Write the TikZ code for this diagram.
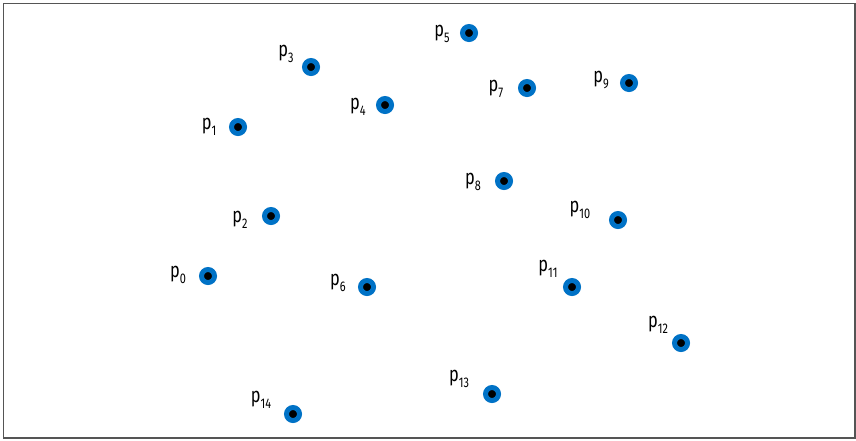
\documentclass[tikz,border=0pt]{standalone}
\usepackage{fontspec}
\newfontfamily\labelfont[FakeStretch=0.78]{Fira Sans}
\definecolor{ptblue}{RGB}{0,114,198}
\definecolor{frame}{RGB}{85,85,85}
\usetikzlibrary{positioning}
\newcommand\ptname[1]{p\raisebox{-0.3em}{\fontsize{14}{14}\selectfont #1}}

\begin{document}
\begin{tikzpicture}[x=1pt, y=-1pt,
  pt/.style={circle, fill=black, draw=ptblue, line width=5pt, minimum size=13pt, inner sep=0pt},
  lbl/.style={font=\labelfont\fontsize{21}{24}\selectfont, inner sep=0pt}
]
  \useasboundingbox (0,0) rectangle (856,440);
  \draw[frame, line width=1.3pt] (3.5,3.5) rectangle (855,438);

  \node[pt] (p0) at (208,276) {};
  \node[pt] (p1) at (238,127) {};
  \node[pt] (p2) at (271,216) {};
  \node[pt] (p3) at (311,67) {};
  \node[pt] (p4) at (385,105) {};
  \node[pt] (p5) at (469,33) {};
  \node[pt] (p6) at (367,287) {};
  \node[pt] (p7) at (527,88) {};
  \node[pt] (p8) at (504,181) {};
  \node[pt] (p9) at (629,83) {};
  \node[pt] (p10) at (618,220) {};
  \node[pt] (p11) at (572,287) {};
  \node[pt] (p12) at (681,343) {};
  \node[pt] (p13) at (492,394) {};
  \node[pt] (p14) at (293,414) {};

  \node[lbl] (l0) at (178,275) {\ptname{0}};
  \node[lbl] (l1) at (209,127) {\ptname{1}};
  \node[lbl] (l2) at (240,220) {\ptname{2}};
  \node[lbl] (l3) at (286,54) {\ptname{3}};
  \node[lbl] (l4) at (358,107) {\ptname{4}};
  \node[lbl] (l5) at (442,34) {\ptname{5}};
  \node[lbl] (l6) at (338,283) {\ptname{6}};
  \node[lbl] (l7) at (496,89) {\ptname{7}};
  \node[lbl] (l8) at (473,182) {\ptname{8}};
  \node[lbl] (l9) at (601,80) {\ptname{9}};
  \node[lbl] (l10) at (580,210) {\ptname{10}};
  \node[lbl] (l11) at (548,269) {\ptname{11}};
  \node[lbl] (l12) at (658,325) {\ptname{12}};
  \node[lbl] (l13) at (459,379) {\ptname{13}};
  \node[lbl] (l14) at (261,400) {\ptname{14}};
\end{tikzpicture}
\end{document}
